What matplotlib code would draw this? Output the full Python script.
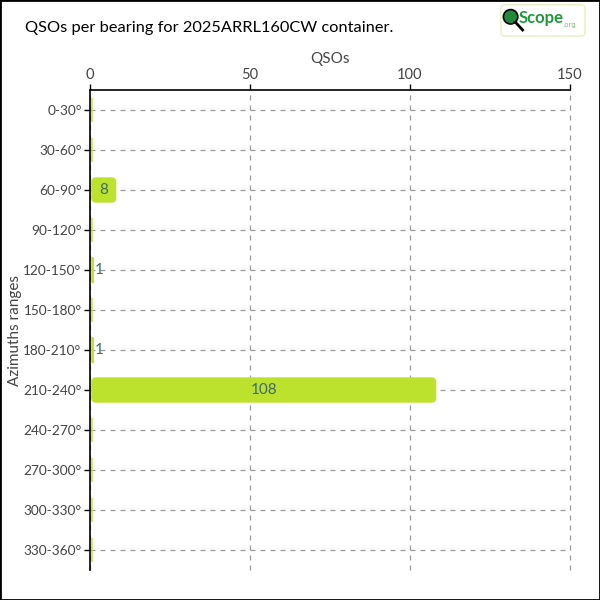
import matplotlib.pyplot as plt
from matplotlib.patches import FancyBboxPatch, Rectangle, Circle
import matplotlib.lines as mlines

# bearing sectors and QSO counts
sectors = ['0-30°', '30-60°', '60-90°', '90-120°', '120-150°', '150-180°',
           '180-210°', '210-240°', '240-270°', '270-300°', '300-330°', '330-360°']
qsos = [0, 0, 8, 0, 1, 0, 1, 108, 0, 0, 0, 0]
x_ticks = [0, 50, 100, 150]

bar_color = '#bde22e'
label_color = '#3d6b6b'
text_font = ['Lato', 'DejaVu Sans']

fig = plt.figure(figsize=(6, 6), dpi=100)
ax = fig.add_axes([0.15, 0.05, 0.8, 0.8])

ax.set_xlim(0, 150)
ax.set_ylim(len(sectors) - 0.5, -0.5)

# rounded bars
bar_h = 0.6
for i, v in enumerate(qsos):
    rs = min(1.25, v / 2)
    box = FancyBboxPatch((0.6, i - bar_h / 2), max(v - 0.6, 0), bar_h,
                         boxstyle='round,pad=0,rounding_size=%f' % rs,
                         mutation_aspect=0.08,
                         facecolor=bar_color, edgecolor=bar_color,
                         linewidth=1, zorder=3)
    ax.add_patch(box)
    if v >= 5:
        ax.text(v / 2 + 0.3, i, str(v), ha='center', va='center',
                color=label_color, fontsize=11, family=text_font, zorder=4)
    elif v > 0:
        ax.text(v + 0.5, i, str(v), ha='left', va='center',
                color=label_color, fontsize=11, family=text_font, zorder=4)

ax.set_yticks(range(len(sectors)))
ax.set_yticklabels(sectors)
ax.set_xticks(x_ticks)
ax.xaxis.tick_top()
ax.xaxis.set_label_position('top')
ax.set_xlabel('QSOs', fontsize=11, color='#444444', family=text_font, labelpad=3)
ax.set_ylabel('Azimuths ranges', fontsize=11, color='#444444', family=text_font)
ax.yaxis.set_label_coords(-0.142, 0.5)

for lab in ax.get_xticklabels() + ax.get_yticklabels():
    lab.set_family(text_font)
    lab.set_fontsize(10.5)
    lab.set_color('#444444')
for lab in ax.get_yticklabels():
    lab.set_fontsize(9.8)
ax.tick_params(axis='both', length=4, width=1, color='black', pad=2)

ax.spines['right'].set_visible(False)
ax.spines['bottom'].set_visible(False)
ax.spines['left'].set_linewidth(1.2)
ax.spines['top'].set_linewidth(1.2)

# dashed grid
ax.grid(True, linestyle=(0, (4, 4)), color='#999999', linewidth=0.9, zorder=0)
ax.set_axisbelow(True)
for gl in ax.get_xgridlines():
    gl.set_clip_on(False)

# title
fig.text(0.042, 0.953, 'QSOs per bearing for 2025ARRL160CW container.',
         fontsize=11.8, family=text_font, color='black', va='center', ha='left')

# logo block
logo = FancyBboxPatch((0.835, 0.94), 0.14, 0.052,
                      boxstyle='round,pad=0,rounding_size=0.006',
                      transform=fig.transFigure, facecolor='white',
                      edgecolor='#e6f0c0', linewidth=1)
fig.patches.append(logo)
fig.patches.append(Circle((0.851, 0.972), 0.012, transform=fig.transFigure,
                          facecolor='#1e8a3a', edgecolor='black', linewidth=1.2))
fig.lines.append(mlines.Line2D([0.859, 0.871], [0.963, 0.950],
                               transform=fig.transFigure, color='black', linewidth=2))
fig.text(0.864, 0.970, 'Scope', fontsize=12, fontweight='bold', color='#1e9a3a',
         va='center', ha='left', family=text_font)
fig.text(0.937, 0.958, '.org', fontsize=5, color='#7bbf6a', va='center', ha='left')

# figure border
fig.patches.append(Rectangle((0, 0), 1, 1, transform=fig.transFigure,
                             fill=False, edgecolor='black', linewidth=2))

fig.savefig('out.png', dpi=100)
